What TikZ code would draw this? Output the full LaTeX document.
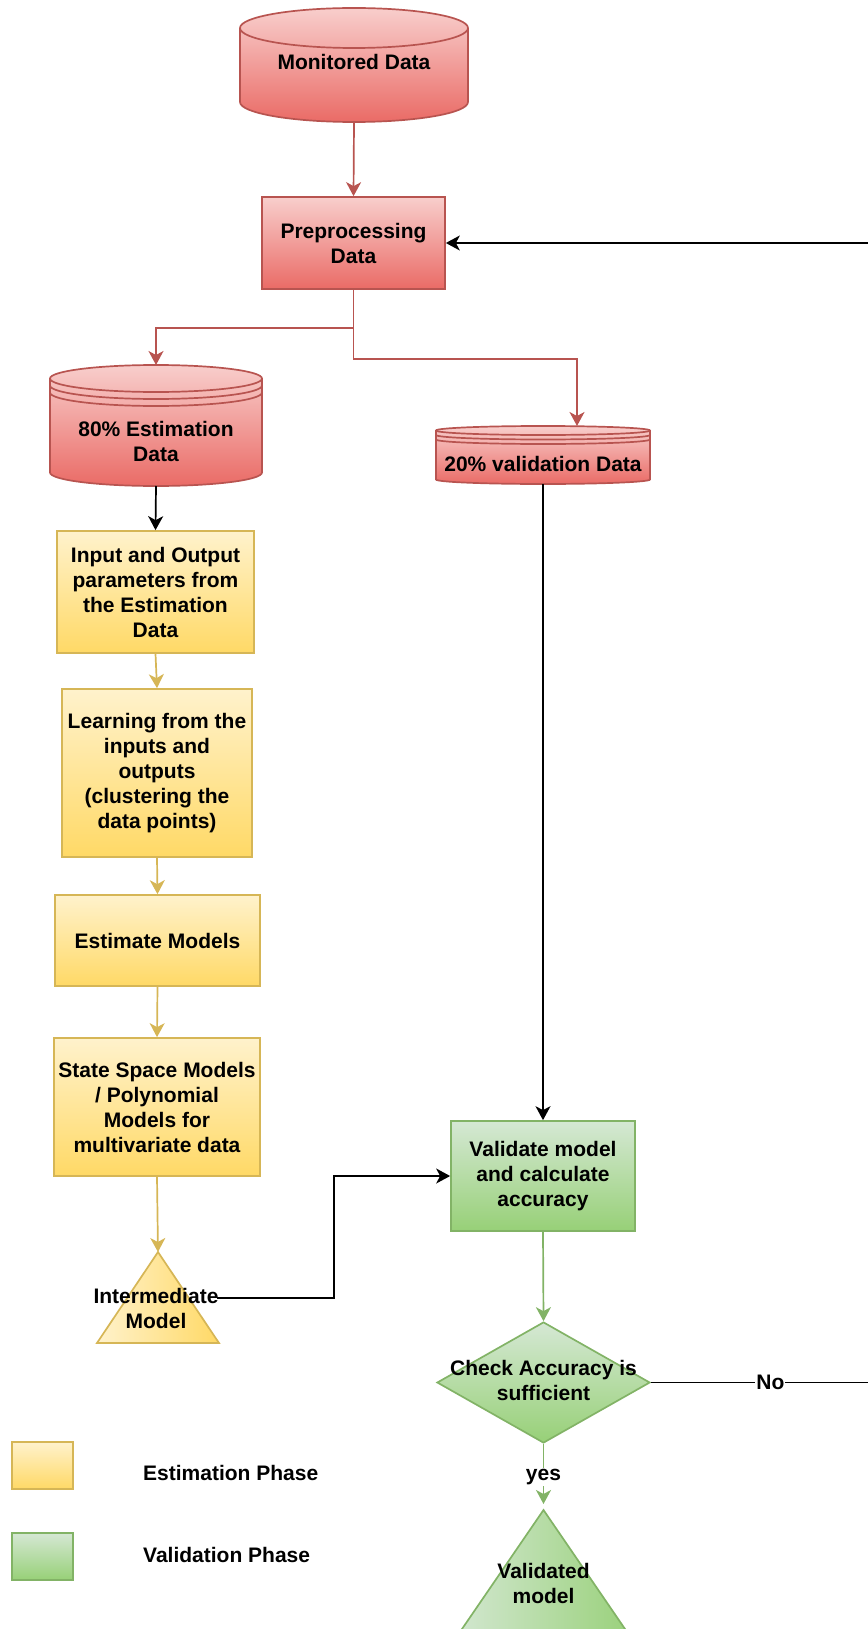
\documentclass[tikz,border=0pt]{standalone}
\usepackage{fontspec}
\setmainfont{Liberation Sans}
\usetikzlibrary{arrows.meta,shapes.geometric}
\definecolor{redL}{HTML}{F8CECC}
\definecolor{redD}{HTML}{EA6B66}
\definecolor{redS}{HTML}{B85450}
\definecolor{yelL}{HTML}{FFF2CC}
\definecolor{yelD}{HTML}{FFD966}
\definecolor{yelS}{HTML}{D6B656}
\definecolor{grnL}{HTML}{D5E8D4}
\definecolor{grnD}{HTML}{97D077}
\definecolor{grnS}{HTML}{82B366}
\begin{document}
\begin{tikzpicture}[x=1pt,y=-1pt,
  lbl/.style={font=\fontsize{21}{25}\selectfont\bfseries, align=center, inner sep=0pt},
  outline/.style={line width=1.7pt},
  redfill/.style={draw=redS, outline, top color=redL, bottom color=redD},
  redbox/.style={redfill, lbl},
  yelbox/.style={draw=yelS, outline, top color=yelL, bottom color=yelD, lbl},
  grnbox/.style={draw=grnS, outline, top color=grnL, bottom color=grnD, lbl},
  arrowtip/.style={-{Stealth[length=14pt,width=15pt,inset=4pt]}},
  redarr/.style={draw=redS, line width=1.7pt, arrowtip},
  yelarr/.style={draw=yelS, line width=1.7pt, arrowtip},
  grnarr/.style={draw=grnS, line width=1.7pt, arrowtip},
  blkarr/.style={draw=black, line width=1.7pt, arrowtip},
  onlinelbl/.style={lbl, fill=white, inner sep=1pt},
  hold/.style={inner sep=0pt, outer sep=0pt},
]
\useasboundingbox (0,0) rectangle (867,1629);

% ---- Monitored Data (cylinder) ----
\path[redfill] (240,28) -- (240,102)
  arc[start angle=180, end angle=0, x radius=114, y radius=20] -- (468,28)
  arc[start angle=0, end angle=-180, x radius=114, y radius=20] -- cycle;
\draw[redS, outline] (240,28) arc[start angle=180, end angle=0, x radius=114, y radius=20];
\node[hold, minimum width=228pt, minimum height=114pt] (mon) at (354,65) {};
\node[lbl] (montxt) at (354,62) {Monitored Data};

% ---- Preprocessing ----
\node[redbox, minimum width=183pt, minimum height=92pt] (pre) at (353.5,243) {Preprocessing\\Data};

% ---- 80% Estimation Data (stacked cylinder) ----
\path[redfill] (50,378.5) -- (50,472.5)
  arc[start angle=180, end angle=0, x radius=106, y radius=13.5] -- (262,378.5)
  arc[start angle=0, end angle=-180, x radius=106, y radius=13.5] -- cycle;
\foreach \dy in {0,7,14}
  \draw[redS, outline] (50,378.5+\dy) arc[start angle=180, end angle=0, x radius=106, y radius=13.5];
\node[hold, minimum width=212pt, minimum height=121pt] (est) at (156,425.5) {};
\node[lbl] (esttxt) at (156,441) {80\% Estimation\\Data};

% ---- 20% validation Data (stacked cylinder) ----
\path[redfill] (436,430.5) -- (436,479.5)
  arc[start angle=180, end angle=0, x radius=107, y radius=4.5] -- (650,430.5)
  arc[start angle=0, end angle=-180, x radius=107, y radius=4.5] -- cycle;
\foreach \dy in {0,4.5,9}
  \draw[redS, outline] (436,430.5+\dy) arc[start angle=180, end angle=0, x radius=107, y radius=4.5];
\node[hold, minimum width=214pt, minimum height=58pt] (valdata) at (543,455) {};
\node[lbl] (valtxt) at (543,464) {20\% validation Data};

% ---- Estimation phase ----
\node[yelbox, minimum width=197pt, minimum height=122pt] (inout) at (155.5,592)
  {Input and Output\\parameters from\\the Estimation\\Data};
\node[yelbox, minimum width=190pt, minimum height=168pt] (learn) at (157,773)
  {Learning from the\\inputs and\\outputs\\(clustering the\\data points)};
\node[yelbox, minimum width=205pt, minimum height=91pt] (estm) at (157.5,940.5)
  {Estimate Models};
\node[yelbox, minimum width=206pt, minimum height=138pt] (ssm) at (157,1107)
  {State Space Models\\/ Polynomial\\Models for\\multivariate data};

% intermediate model triangle
\path[draw=yelS, outline, left color=yelL, right color=yelD]
  (158,1252) -- (219,1343) -- (97,1343) -- cycle;
\coordinate (imtop) at (158,1252);
\node[lbl] (imtxt) at (156,1308) {Intermediate\\Model};
\coordinate (imout) at (217,1298);

% ---- Validation phase ----
\node[grnbox, minimum width=184pt, minimum height=110pt] (val) at (543,1176)
  {Validate model\\and calculate\\accuracy};
\node[diamond, draw=grnS, outline, top color=grnL, bottom color=grnD,
      minimum width=213pt, minimum height=121pt, inner sep=0pt] (chk) at (543.5,1382.5) {};
\node[lbl] (chktxt) at (543.5,1380) {Check Accuracy is\\sufficient};

% validated model triangle
\path[draw=grnS, outline, left color=grnL, right color=grnD]
  (543.5,1510) -- (639.4,1650) -- (447.6,1650) -- cycle;
\coordinate (vtop) at (543.5,1510);
\node[lbl] (vtxt) at (543.5,1583) {Validated\\model};

% ---- Legend ----
\node[draw=yelS, outline, top color=yelL, bottom color=yelD, minimum width=61pt, minimum height=47pt, inner sep=0pt] (legest) at (42.5,1465.5) {};
\node[lbl, anchor=west] (legesttxt) at (143,1473) {Estimation Phase};
\node[draw=grnS, outline, top color=grnL, bottom color=grnD, minimum width=61pt, minimum height=47pt, inner sep=0pt] (legval) at (42.5,1556.5) {};
\node[lbl, anchor=west] (legvaltxt) at (143,1555) {Validation Phase};

% ---- Connectors ----
\draw[redarr] (mon.south) -- (pre.north);
\draw[redarr] (pre.south) -- ++(0,38) -| (est.north);
\draw[redarr] (pre.south) -- ++(0,69) -| ([xshift=34pt]valdata.north);
\draw[blkarr] (est.south) -- (inout.north);
\draw[yelarr] (inout.south) -- (learn.north);
\draw[yelarr] (learn.south) -- (estm.north);
\draw[yelarr] (estm.south) -- (ssm.north);
\draw[yelarr] (ssm.south) -- (imtop);
\draw[blkarr] (valdata.south) -- (val.north);
\draw[blkarr] (imout) -- ++(117,0) |- (val.west);
\draw[grnarr] (val.south) -- (chk.north);
\draw[grnarr, shorten >=6pt] (chk.south) -- node[onlinelbl] {yes} (vtop);
\draw[blkarr] (chk.east) -- node[onlinelbl] {No} (890,1382.5) |- (pre.east);
\end{tikzpicture}
\end{document}
